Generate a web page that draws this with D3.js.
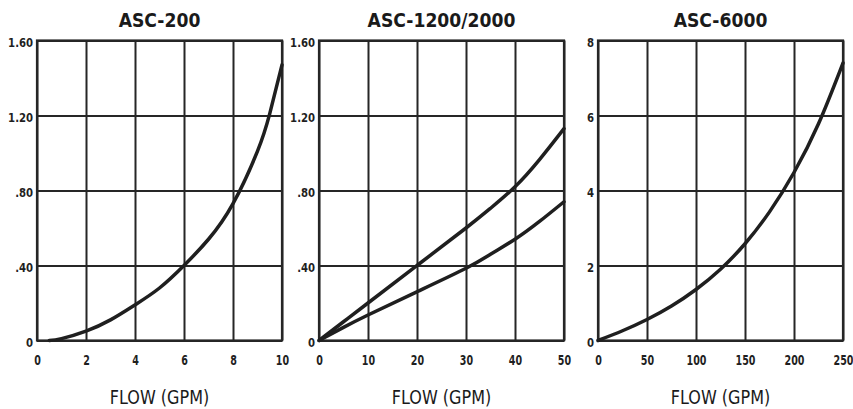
<!DOCTYPE html>
<html>
<head>
<meta charset="utf-8">
<script src="https://cdn.jsdelivr.net/npm/d3@7"></script>
<style>
  body { margin: 0; background: #fff; }
  text { font-family: "DejaVu Sans", sans-serif; fill: #1a1a1a; }
</style>
</head>
<body>
<script>
const w = 853;
const h = 409;

// chart data
const titles = ["ASC-200", "ASC-1200/2000", "ASC-6000"];
const xLabel = "FLOW (GPM)";

const asc200Flow = [0.5, 1, 2, 3, 4, 5, 6, 7, 8, 9, 9.5, 10];
const asc200Drop = [0, 0.01, 0.05, 0.11, 0.19, 0.28, 0.40, 0.54, 0.73, 1.01, 1.21, 1.47];

const asc1200Flow = [0, 5, 10, 20, 30, 35, 40, 45, 50];
const asc1200UpperDrop = [0, 0.10, 0.20, 0.40, 0.60, 0.705, 0.82, 0.965, 1.13];
const asc1200LowerDrop = [0, 0.07, 0.136, 0.26, 0.385, 0.46, 0.54, 0.635, 0.74];

const asc6000Flow = [0, 25, 50, 75, 100, 125, 150, 175, 200, 225, 250];
const asc6000Drop = [0, 0.26, 0.56, 0.92, 1.36, 1.90, 2.58, 3.43, 4.48, 5.78, 7.4];

const xTicks = [[0, 2, 4, 6, 8, 10], [0, 10, 20, 30, 40, 50], [0, 50, 100, 150, 200, 250]];
const yTicks = [[0, 0.4, 0.8, 1.2, 1.6], [0, 0.4, 0.8, 1.2, 1.6], [0, 2, 4, 6, 8]];
const yTickLabels = [["0", ".40", ".80", "1.20", "1.60"], ["0", ".40", ".80", "1.20", "1.60"], ["0", "2", "4", "6", "8"]];

const panels = [
  { title: titles[0], xMax: 10, yMax: 1.6, series: [[asc200Flow, asc200Drop]] },
  { title: titles[1], xMax: 50, yMax: 1.6, series: [[asc1200Flow, asc1200UpperDrop], [asc1200Flow, asc1200LowerDrop]] },
  { title: titles[2], xMax: 250, yMax: 8, series: [[asc6000Flow, asc6000Drop]] },
];

// layout
const lefts = [37, 319, 598];
const plotTop = 40.5;
const pw = 245;
const ph = 300;
const ink = "#1f1f1f";

const svg = d3.select("body").append("svg").attr("width", w).attr("height", h);

panels.forEach((p, i) => {
  const g = svg.append("g").attr("transform", `translate(${lefts[i]},${plotTop})`);
  const x = d3.scaleLinear().domain([0, p.xMax]).range([0, pw]);
  const y = d3.scaleLinear().domain([0, p.yMax]).range([ph, 0]);

  // horizontal grid + y labels
  g.append("g")
    .call(d3.axisLeft(y).tickValues(yTicks[i]).tickSize(-pw).tickPadding(5)
      .tickFormat((d, j) => yTickLabels[i][j]))
    .call((a) => a.select(".domain").remove())
    .call((a) => a.selectAll("line").attr("stroke", "#262626").attr("stroke-width", 2))
    .call((a) => a.selectAll("text").attr("font-size", 13).attr("font-weight", "bold")
      .attr("dy", "0.45em").attr("transform", "scale(0.78,1)").style("fill", ink));

  // vertical grid + x labels
  g.append("g")
    .attr("transform", `translate(0,${ph})`)
    .call(d3.axisBottom(x).tickValues(xTicks[i]).tickSize(-ph).tickPadding(14))
    .call((a) => a.select(".domain").remove())
    .call((a) => a.selectAll("line").attr("stroke", "#262626").attr("stroke-width", 2))
    .call((a) => a.selectAll("text").attr("font-size", 14.5).attr("font-weight", "bold")
      .attr("transform", "scale(0.66,1)").style("fill", ink));

  // border
  g.append("rect")
    .attr("width", pw).attr("height", ph)
    .attr("fill", "none").attr("stroke", "#262626").attr("stroke-width", 2.2);

  // curves
  const line = d3.line().x((d) => x(d[0])).y((d) => y(d[1])).curve(d3.curveNatural);
  p.series.forEach(([xs, ys]) => {
    g.append("path")
      .datum(xs.map((v, k) => [v, ys[k]]))
      .attr("fill", "none")
      .attr("stroke", ink)
      .attr("stroke-width", 3.5)
      .attr("stroke-linecap", "round")
      .attr("d", line);
  });

  // title
  g.append("g")
    .attr("transform", `translate(${pw / 2},${27 - plotTop})`)
    .append("text")
    .attr("text-anchor", "middle")
    .attr("transform", "scale(0.86,1)")
    .attr("font-size", 20).attr("font-weight", "bold")
    .text(p.title);

  // x axis title
  g.append("g")
    .attr("transform", `translate(${pw / 2},${404 - plotTop})`)
    .append("text")
    .attr("text-anchor", "middle")
    .attr("transform", "scale(0.8,1)")
    .attr("font-size", 20)
    .text(xLabel);
});
</script>
</body>
</html>
